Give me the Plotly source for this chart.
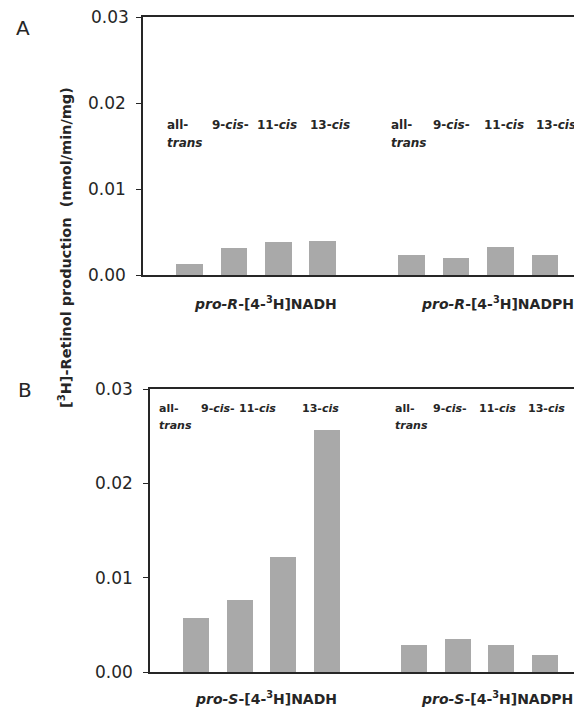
import plotly.graph_objects as go

# ---- data ----
isomers_line1 = ["all-", "9-<i>cis</i>-", "11-<i>cis</i>", "13-<i>cis</i>"]
isomers_line2 = ["<i>trans</i>", "", "", ""]
groups_A = ["<i>pro-R</i>-[4-<sup>3</sup>H]NADH", "<i>pro-R</i>-[4-<sup>3</sup>H]NADPH"]
groups_B = ["<i>pro-S</i>-[4-<sup>3</sup>H]NADH", "<i>pro-S</i>-[4-<sup>3</sup>H]NADPH"]
nadh_A = [0.00124, 0.0031, 0.0038, 0.00395]
nadph_A = [0.0023, 0.0020, 0.00326, 0.0023]
nadh_B = [0.00573, 0.00767, 0.01215, 0.0257]
nadph_B = [0.00286, 0.00353, 0.0029, 0.0018]
ytick_vals = [0.0, 0.01, 0.02, 0.03]
ytick_text = ["0.00", "0.01", "0.02", "0.03"]
y_title = "[<sup>3</sup>H]-Retinol production \u00a0(nmol/min/mg)"

# page is 582x711; the body has an 8px margin, so the figure starts at (8, 8)
OFF = 8
FW, FH = 582, 711
def px(x): return (x - OFF) / FW
def py(y): return 1 - (y - OFF) / FH

BAR = "#a9a9a9"
INK = "#262626"
FONT = "DejaVu Sans, Verdana, sans-serif"

pos_nadh = [i for i in range(4)]
pos_nadph = [i + 5 for i in range(4)]

fig = go.Figure()
fig.add_trace(go.Bar(x=pos_nadh + pos_nadph, y=nadh_A + nadph_A, width=0.6,
                     marker=dict(color=BAR, line=dict(width=0)),
                     xaxis="x", yaxis="y", showlegend=False))
fig.add_trace(go.Bar(x=pos_nadh + pos_nadph, y=nadh_B + nadph_B, width=0.6,
                     marker=dict(color=BAR, line=dict(width=0)),
                     xaxis="x2", yaxis="y2", showlegend=False))

xcommon = dict(showline=True, linecolor=INK, linewidth=1.6, mirror=True,
               showticklabels=False, ticks="", showgrid=False, zeroline=False,
               automargin=False)
ycommon = dict(showline=True, linecolor=INK, linewidth=1.6, mirror=False,
               ticks="outside", ticklen=5, tickwidth=1, tickcolor=INK,
               ticklabelstandoff=7, automargin=False,
               tickvals=ytick_vals, range=[0, 0.03],
               tickfont=dict(size=17, color=INK, family=FONT),
               showgrid=False, zeroline=False)

# x ranges: slot spacing and left axis position
a_left, a_c0, a_step = 143, 189.5, 44.44
b_left, b_c0, b_step = 150, 196.0, 43.6
right_edge = 582
fig.update_layout(
    width=FW, height=FH,
    margin=dict(l=0, r=0, t=0, b=0, pad=0, autoexpand=False),
    paper_bgcolor="white", plot_bgcolor="white",
    font=dict(family=FONT, color=INK),
    xaxis=dict(domain=[px(a_left), px(right_edge)],
               range=[(a_left - a_c0) / a_step, (right_edge - a_c0) / a_step],
               anchor="y", **xcommon),
    # top label of panel A sits at the figure edge: drawn as an annotation below
    yaxis=dict(domain=[py(275), py(17)], anchor="x",
               ticktext=ytick_text[:-1] + [""], **ycommon),
    xaxis2=dict(domain=[px(b_left), px(right_edge)],
                range=[(b_left - b_c0) / b_step, (right_edge - b_c0) / b_step],
                anchor="y2", **xcommon),
    yaxis2=dict(domain=[py(672), py(389)], anchor="x2",
                ticktext=ytick_text, **ycommon),
    bargap=0,
)

ann = []
def text(x, y, s, size, xanchor="center", angle=0):
    ann.append(dict(x=px(x), y=py(y), xref="paper", yref="paper", text=s,
                    showarrow=False, xanchor=xanchor, yanchor="middle",
                    textangle=angle, font=dict(size=size, color=INK, family=FONT)))

# top tick label of panel A, tied to the y axis value
ann.append(dict(x=px(a_left - 12), y=ytick_vals[-1], xref="paper", yref="y",
                text=ytick_text[-1], showarrow=False, xanchor="right",
                yanchor="middle", font=dict(size=17, color=INK, family=FONT)))

# category labels (left pixel positions)
labA_x = [165, 210, 255, 308, 389, 431, 482, 534]
labB_x = [157, 199, 237, 300, 393, 431, 477, 526]
for k in range(8):
    i = k % 4
    text(labA_x[k], 125, "<b>" + isomers_line1[i] + "</b>", 12, "left")
    if isomers_line2[i]:
        text(labA_x[k], 143, "<b>" + isomers_line2[i] + "</b>", 12, "left")
    text(labB_x[k], 408, "<b>" + isomers_line1[i] + "</b>", 11, "left")
    if isomers_line2[i]:
        text(labB_x[k], 425, "<b>" + isomers_line2[i] + "</b>", 11, "left")

# group labels
text(265, 303, "<b>" + groups_A[0] + "</b>", 14)
text(497, 303, "<b>" + groups_A[1] + "</b>", 14)
text(266, 698, "<b>" + groups_B[0] + "</b>", 14)
text(497, 698, "<b>" + groups_B[1] + "</b>", 14)

# panel letters and y title
text(23, 28, "A", 20)
text(25, 390, "B", 20)
text(65, 248, "<b>" + y_title + "</b>", 14.5, angle=-90)

fig.update_layout(annotations=ann)
fig.write_html("out.html")
